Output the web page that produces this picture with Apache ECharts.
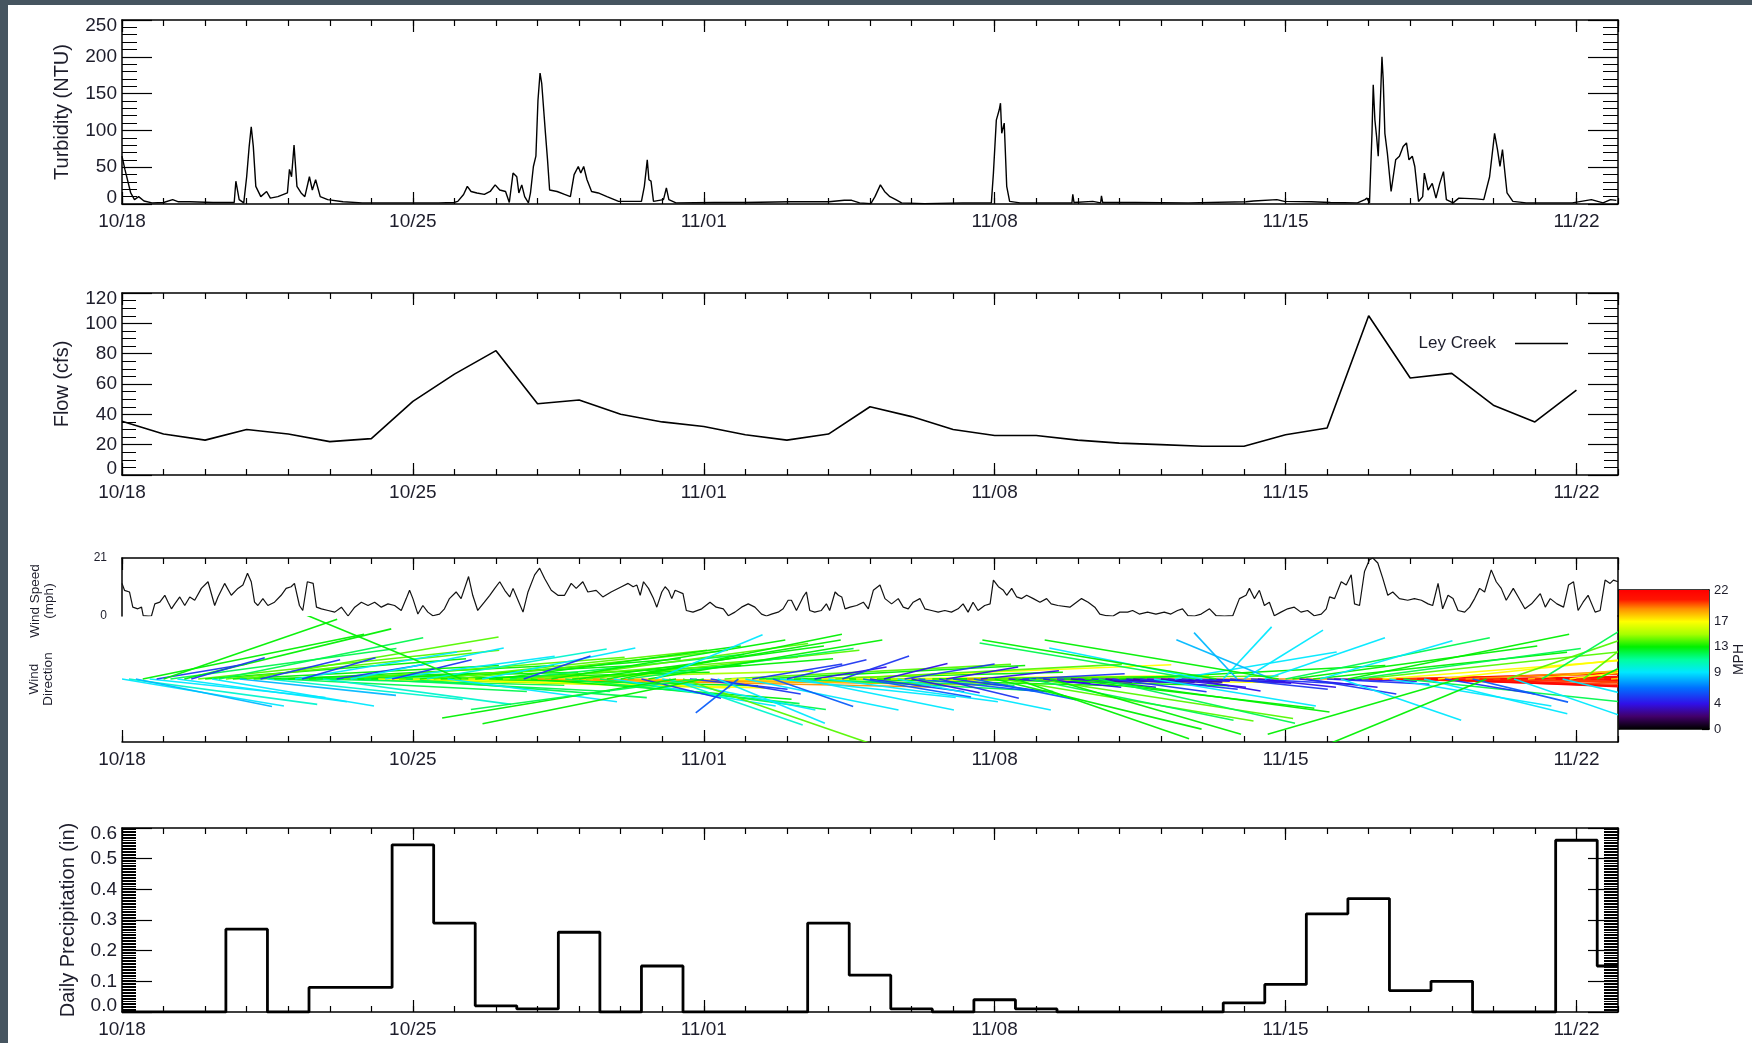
<!DOCTYPE html>
<html><head><meta charset="utf-8">
<script src="https://cdn.jsdelivr.net/npm/echarts@6/dist/echarts.min.js"></script>
<style>html,body{margin:0;padding:0;background:#fff;}#chart{width:1752px;height:1043px;}</style>
</head><body><div id="chart"></div>
<script>
// ---------------- data ----------------
const tickDays = [0, 7, 14, 21, 28, 35];
const tickLabels = ['10/18', '10/25', '11/01', '11/08', '11/15', '11/22'];

// turbidity [day offset from 10/18, NTU]
const turbidity = [[0,65],[0.07,47],[0.21,15],[0.30,6],[0.40,10],[0.53,4],[0.72,1.5],[1.0,2],[1.22,6],[1.36,3],[1.64,3],[2.19,2],[2.70,2],[2.74,31],[2.82,6],[2.93,1.5],[3.00,37],[3.06,78],[3.11,105],[3.16,78],[3.22,24],[3.34,10],[3.48,17],[3.57,8],[3.75,10],[3.98,15],[4.03,47],[4.08,37],[4.14,80],[4.21,24],[4.31,15],[4.40,10],[4.51,37],[4.58,19],[4.66,33],[4.77,10],[4.95,6],[5.32,3],[5.78,1.5],[6.70,1.5],[7.62,1.5],[7.99,2],[8.08,3.5],[8.22,13],[8.31,24],[8.40,17],[8.54,15],[8.72,13],[8.86,17],[8.98,26],[9.09,19],[9.23,17],[9.32,2],[9.41,42],[9.50,37],[9.55,15],[9.62,26],[9.69,10],[9.78,1.5],[9.83,15],[9.90,51],[9.96,65],[10.01,141],[10.06,178],[10.10,164],[10.19,96],[10.24,60],[10.29,19],[10.47,17],[10.65,13],[10.79,10],[10.88,40],[10.98,51],[11.04,42],[11.11,51],[11.19,33],[11.30,17],[11.46,15],[11.67,10],[11.95,3.5],[12.50,3.5],[12.57,24],[12.64,60],[12.68,33],[12.73,31],[12.79,3.5],[13.03,6],[13.10,22],[13.16,6],[13.33,1.5],[14.25,2],[14.99,2],[16.09,3],[17.01,3],[17.38,5],[17.56,5],[17.75,1.5],[18.02,0.5],[18.12,10],[18.25,26],[18.35,17],[18.48,10],[18.62,6],[18.76,1.5],[19.31,0.5],[20.23,1.5],[20.92,1.5],[20.97,42],[21.04,114],[21.11,128],[21.14,137],[21.17,96],[21.23,110],[21.29,24],[21.36,3.5],[21.61,1.5],[22.86,1.5],[22.88,13],[22.91,2],[23.36,3.5],[23.55,1.5],[23.57,11],[23.60,2],[24.38,2],[25.66,1.5],[27.05,3],[27.23,4],[27.79,6],[27.97,3.5],[28.62,3],[29.08,2],[29.73,1.5],[29.91,6],[29.96,8],[30.02,1.5],[30.08,96],[30.11,162],[30.15,114],[30.19,92],[30.23,65],[30.26,105],[30.32,200],[30.35,169],[30.39,96],[30.45,69],[30.54,17],[30.65,60],[30.74,65],[30.83,78],[30.91,83],[30.97,60],[31.05,65],[31.11,51],[31.20,3.5],[31.30,10],[31.34,42],[31.43,19],[31.53,28],[31.62,8],[31.71,28],[31.80,44],[31.87,6],[32.03,1.5],[32.17,8],[32.59,7],[32.77,6],[32.91,37],[33.03,96],[33.10,74],[33.16,51],[33.22,74],[33.33,15],[33.47,3.5],[33.79,1.5],[34.90,1.5],[35.36,6],[35.64,1.5],[35.82,6],[35.96,5]];

// daily flow (cfs), Ley Creek
const flowDays = [0,1,2,3,4,5,6,7,8,9,10,11,12,13,14,15,16,17,18,19,20,21,22,23,24,25,26,27,28,29,30,31,32,33,34,35];
const flowCfs = [35.5,27,23,30,27,22,24,48.5,66.5,82,47,49.5,40,35,32,26.5,23,27,45,38.5,30,26,26,23,21,20,19,19,26.5,31,105,64,67,46,35,56];

// wind speed (mph) [day offset, mph]
const windSpeed = [[0.00,11.8],[0.06,9.3],[0.18,8.7],[0.26,3.2],[0.38,2.6],[0.47,3.2],[0.51,0.1],[0.63,0],[0.71,0.1],[0.79,4.4],[0.91,5.0],[1.03,7.5],[1.11,5.0],[1.19,2.6],[1.27,4.4],[1.39,6.9],[1.51,3.8],[1.63,6.9],[1.75,5.7],[1.91,10.0],[2.07,12.4],[2.23,3.8],[2.31,6.9],[2.47,11.8],[2.63,7.5],[2.79,10.0],[2.91,11.2],[3.02,15.5],[3.11,12.4],[3.19,5.0],[3.27,3.8],[3.39,6.3],[3.51,3.8],[3.67,5.0],[3.83,7.5],[3.95,10.0],[4.07,10.6],[4.15,11.8],[4.27,3.8],[4.35,2.0],[4.46,12.4],[4.60,11.8],[4.68,3.2],[4.80,2.6],[4.96,2.0],[5.12,1.4],[5.28,3.2],[5.44,0],[5.60,3.2],[5.76,5.0],[5.92,3.8],[6.08,5.0],[6.24,3.2],[6.40,4.4],[6.56,3.8],[6.72,2.0],[6.84,6.3],[6.92,9.3],[7.00,6.3],[7.12,0.7],[7.24,3.8],[7.36,1.4],[7.48,0.1],[7.64,0.7],[7.76,2.6],[7.88,6.3],[8.04,8.7],[8.16,6.3],[8.34,14.3],[8.44,7.5],[8.56,2.0],[8.72,5.0],[8.85,7.5],[8.97,10.0],[9.09,12.4],[9.21,9.3],[9.33,6.9],[9.41,10.0],[9.53,5.7],[9.65,1.4],[9.77,8.7],[9.93,14.9],[10.05,17.3],[10.17,13.6],[10.33,9.3],[10.49,7.5],[10.65,7.5],[10.81,11.8],[10.93,10.0],[11.09,12.4],[11.21,8.7],[11.41,9.3],[11.57,6.9],[11.77,8.7],[12.02,10.6],[12.18,11.8],[12.30,10.6],[12.39,11.2],[12.47,7.5],[12.55,12.4],[12.67,10.0],[12.79,6.3],[12.87,3.2],[12.99,8.7],[13.07,10.6],[13.15,9.3],[13.23,6.3],[13.31,9.3],[13.50,8.1],[13.58,2.0],[13.74,1.4],[13.95,2.6],[14.15,5.0],[14.30,3.2],[14.47,2.6],[14.59,0.1],[14.75,1.4],[14.91,3.2],[15.07,4.4],[15.23,3.2],[15.39,0.7],[15.51,0],[15.63,0.7],[15.79,1.4],[15.91,2.6],[16.03,5.7],[16.11,5.7],[16.23,2.0],[16.39,6.9],[16.47,8.7],[16.55,2.0],[16.67,1.4],[16.83,2.0],[16.95,4.4],[17.03,2.0],[17.16,8.7],[17.24,7.5],[17.32,6.9],[17.40,2.6],[17.52,3.2],[17.68,3.8],[17.84,5.0],[17.96,2.6],[18.08,9.3],[18.24,11.2],[18.36,6.3],[18.52,4.4],[18.68,6.3],[18.80,3.2],[18.92,2.6],[19.04,5.0],[19.20,6.3],[19.32,2.6],[19.48,2.0],[19.64,1.4],[19.80,2.0],[19.96,1.4],[20.12,2.6],[20.24,4.4],[20.36,1.4],[20.48,5.0],[20.60,2.0],[20.76,3.8],[20.89,4.4],[20.97,13.0],[21.09,10.6],[21.21,9.3],[21.29,7.5],[21.41,10.0],[21.53,6.9],[21.65,6.3],[21.77,7.5],[21.93,6.3],[22.09,5.0],[22.25,6.3],[22.36,4.4],[22.52,3.8],[22.81,3.2],[22.97,5.0],[23.09,6.3],[23.25,5.0],[23.41,3.2],[23.53,0.7],[23.69,0.1],[23.85,0],[24.01,1.4],[24.20,1.4],[24.32,2.0],[24.48,0.7],[24.68,1.4],[24.88,0.7],[25.08,1.4],[25.24,0.7],[25.40,2.0],[25.52,2.6],[25.65,0.1],[25.81,0],[25.97,0.7],[26.17,2.6],[26.33,0.1],[26.53,0],[26.73,0.1],[26.89,6.3],[27.05,7.5],[27.13,10.0],[27.25,6.3],[27.37,9.3],[27.49,3.8],[27.61,5.0],[27.73,0.1],[27.89,1.4],[28.05,2.6],[28.21,3.2],[28.37,1.4],[28.53,2.0],[28.69,0.1],[28.86,0.7],[28.98,2.6],[29.06,6.9],[29.18,6.3],[29.34,12.4],[29.46,11.2],[29.58,14.9],[29.66,4.4],[29.78,3.8],[29.90,16.1],[30.02,20.4],[30.10,21.0],[30.22,19.2],[30.34,13.6],[30.46,7.5],[30.58,8.7],[30.74,6.3],[30.94,5.7],[31.10,6.3],[31.27,5.7],[31.43,4.4],[31.54,3.8],[31.67,11.8],[31.78,2.6],[31.91,7.5],[32.03,6.3],[32.15,2.0],[32.31,1.4],[32.43,3.2],[32.55,6.3],[32.67,10.0],[32.79,8.7],[32.95,16.7],[33.07,12.4],[33.19,10.0],[33.31,5.7],[33.48,10.0],[33.60,6.9],[33.76,2.6],[33.92,4.4],[34.13,8.1],[34.25,3.2],[34.37,6.3],[34.53,4.4],[34.69,3.2],[34.81,11.2],[34.93,12.4],[35.04,2.0],[35.16,5.0],[35.28,7.5],[35.45,1.4],[35.57,2.0],[35.69,13.0],[35.81,11.8],[35.89,13.0],[36.00,12.4]];

// wind direction sticks, every 4 hours (6 per day): speed (mph) and heading (deg, 0 = up, 90 = right)
const stickSpeed = [
 9,10,8,13,9,5,  13,12,9,13,5,14,  13,9,12,14,13,8,  14,13,5,10,13,12,  13,9,5,13,12,10,  12,5,14,9,13,12,
 13,17,9,5,14,12,  17,13,10,14,13,9,  14,13,17,13,9,13,  13,15,12,14,5,13,  19,14,13,18,12,13,  13,14,19,12,13,9,
 13,12,18,5,13,9,  9,10,13,14,5,12,  13,5,9,14,17,6,  9,5,13,12,6,9,  5,13,9,12,4,17,  9,14,5,13,17,6,
 5,13,4,16,9,5,  4,6,17,13,5,4,  5,13,19,6,4,14,  13,14,4,13,5,12,  14,4,13,5,13,3,  4,13,5,12,3,5,
 13,4,3,5,4,9,  3,4,9,5,4,12,  9,4,13,9,5,8,  9,5,4,9,8,13,  12,13,4,5,13,9,  5,4,9,13,12,14,
 21,20,17,9,21,12,  20,21,9,22,17,5,  21,13,19,6,21,13,  20,22,14,9,21,18,  21,12,20,22,9,17,  20,14,21,13,22,18];
const stickDir = [
 120,115,125,55,110,60,  40,65,115,50,45,70,  75,120,55,70,80,110,  60,85,50,110,90,100,  80,60,45,85,95,115,  88,60,75,55,92,100,
 80,95,65,50,95,105,  95,75,60,70,85,115,  70,325,92,80,55,95,  65,85,70,75,40,105,  94,65,60,92,110,75,  65,70,93,115,60,120,
 55,65,93,130,60,35,  125,140,240,140,110,245,  235,120,145,80,91,200,  125,60,80,95,140,110,  50,85,125,100,60,82,  115,80,40,95,88,120,
 115,90,50,92,125,60,  125,110,92,88,130,60,  115,95,90,125,70,88,  130,120,100,140,80,125,  118,110,135,95,112,100,  110,115,95,128,100,115,
 80,105,100,110,95,120,  100,110,60,95,120,300,  305,100,300,15,110,345,  25,100,110,40,325,300,  55,65,110,120,70,45,  100,95,140,55,65,70,
 92,86,75,120,96,110,  95,84,130,98,70,120,  88,225,80,130,100,215,  96,86,40,140,90,72,  85,25,98,92,130,65,  92,20,100,30,86,75];

// daily precipitation (in)
const precipDays = [0,1,2,3,4,5,6,7,8,9,10,11,12,13,14,15,16,17,18,19,20,21,22,23,24,25,26,27,28,29,30,31,32,33,34,35,36];
const precipIn = [0,0,0,0.27,0,0.08,0.08,0.545,0.29,0.02,0.01,0.26,0,0.15,0,0,0,0.29,0.12,0.01,0,0.04,0.01,0,0,0,0,0.03,0.09,0.32,0.37,0.07,0.10,0,0,0.56,0.15];

// colour bar
const colorbarTicks = [0, 4, 9, 13, 17, 22];
const cmapStops = [[0,'#000000'],[2,'#42006a'],[4,'#3010e8'],[6.5,'#0070ff'],[9,'#00e8ff'],[11,'#00ff9c'],[13,'#00f000'],[15,'#a8ff00'],[17,'#ffff00'],[19,'#ff9000'],[20.5,'#ff1500'],[22,'#ff0000']];

// ---------------- helpers ----------------
function hex2rgb(h){return [parseInt(h.substr(1,2),16),parseInt(h.substr(3,2),16),parseInt(h.substr(5,2),16)];}
function cmap(v){
  v = Math.max(0, Math.min(22, v));
  for (let i = 1; i < cmapStops.length; i++) {
    if (v <= cmapStops[i][0]) {
      const a = cmapStops[i-1], b = cmapStops[i];
      const f = (v - a[0]) / (b[0] - a[0]);
      const ca = hex2rgb(a[1]), cb = hex2rgb(b[1]);
      return 'rgb(' + ca.map((c,k)=>Math.round(c + (cb[k]-c)*f)).join(',') + ')';
    }
  }
  return cmapStops[cmapStops.length-1][1];
}
function dayLabel(v){ const i = tickDays.indexOf(v); return i >= 0 ? tickLabels[i] : ''; }

const AX = '#000';
const TXT = '#1d1d2b';
const REG = "'Liberation Sans', Arial, sans-serif";

const L = 122, W = 1496;
const grids = [
  {left: L, top: 20, width: W, height: 184},   // 0 turbidity
  {left: L, top: 293, width: W, height: 182},  // 1 flow
  {left: L, top: 558, width: W, height: 58},   // 2 wind speed
  {left: L, top: 616, width: W, height: 126},  // 3 wind direction
  {left: L, top: 828, width: W, height: 184},  // 4 precipitation
  {left: 1619, top: 590, width: 90, height: 139} // 5 colour bar
];

const xAxes = [], yAxes = [];
function addX(gi, pos, major, labelFont){
  const base = {type:'value', gridIndex: gi, min: 0, max: 36, position: pos, splitLine:{show:false}};
  const idx = xAxes.length;
  xAxes.push(Object.assign({}, base, {
    interval: 7,
    axisLine: {show: major, onZero: false, lineStyle: {color: AX, width: 1.5}},
    axisTick: {show: true, inside: true, length: 12, lineStyle: {color: AX, width: 1.2}},
    axisLabel: labelFont ? Object.assign({show: true, formatter: dayLabel, margin: 8, color: TXT, showMaxLabel: false}, labelFont) : {show: false}
  }));
  xAxes.push(Object.assign({}, base, {
    interval: 1,
    axisLine: {show: false, onZero: false},
    axisTick: {show: true, inside: true, length: 6, lineStyle: {color: AX, width: 1.2}},
    axisLabel: {show: false}
  }));
  return idx;
}
function edgeRich(min, max, fmt, font){
  return {
    formatter: function(v){
      const s = fmt(v);
      if (Math.abs(v - min) < 1e-9) return '{lo|' + s + '}';
      if (Math.abs(v - max) < 1e-9) return '{hi|' + s + '}';
      return s;
    },
    rich: {
      lo: Object.assign({padding: [0,0,12,0], color: TXT}, font),
      hi: Object.assign({padding: [12,0,0,0], color: TXT}, font)
    }
  };
}
function addYPair(gi, o){
  const idx = yAxes.length;
  const common = {type:'value', gridIndex: gi, min: o.min, max: o.max, interval: o.interval, splitLine:{show:false}, minorSplitLine:{show:false}};
  const tick = {show: true, inside: true, length: 30, lineStyle: {color: AX, width: 1.2}};
  const minor = {show: true, splitNumber: o.minor, length: o.minorLen || 15, lineStyle: {color: AX, width: 1}};
  yAxes.push(Object.assign({}, common, {
    position: 'left',
    axisLine: {show: true, onZero: false, lineStyle: {color: AX, width: 1.5}},
    axisTick: tick, minorTick: minor,
    axisLabel: Object.assign({show: true, margin: 5, color: TXT}, o.font, edgeRich(o.min, o.max, o.fmt, o.font)),
    name: o.name, nameLocation: 'middle', nameGap: o.nameGap,
    nameTextStyle: {fontFamily: REG, fontSize: 20, color: TXT}
  }));
  yAxes.push(Object.assign({}, common, {
    position: 'right',
    axisLine: {show: true, onZero: false, lineStyle: {color: AX, width: 1.5}},
    axisTick: tick, minorTick: minor, axisLabel: {show: false}
  }));
  return idx;
}

const fontLbl = {fontFamily: REG, fontSize: 19};

// Turbidity panel
const xT = addX(0, 'bottom', true, fontLbl); addX(0, 'top', true, null);
const yT = addYPair(0, {min:0, max:250, interval:50, minor:5, font: fontLbl, fmt: v => String(v), name: 'Turbidity (NTU)', nameGap: 50});
// Flow panel
const xF = addX(1, 'bottom', true, fontLbl); addX(1, 'top', true, null);
const yF = addYPair(1, {min:0, max:120, interval:20, minor:4, minorLen: 14, font: fontLbl, fmt: v => String(v), name: 'Flow (cfs)', nameGap: 50});
// Wind speed panel (top part)
const xWS = addX(2, 'top', true, null);
const yWS = yAxes.length;
yAxes.push({type:'value', gridIndex: 2, position:'left', min: 0, max: 21, interval: 21, splitLine:{show:false},
  axisLine:{show:true, onZero:false, lineStyle:{color:AX, width:1.5}}, axisTick:{show:false},
  axisLabel:{show:true, margin: 15, color: TXT, fontFamily: REG, fontSize: 12},
  name: 'Wind Speed\n(mph)', nameLocation:'middle', nameGap: 66,
  nameTextStyle:{fontFamily: REG, fontSize: 13.5, color: TXT, lineHeight: 14, padding:[0,28,0,0]}});
yAxes.push({type:'value', gridIndex: 2, position:'right', min: 0, max: 21, splitLine:{show:false},
  axisLine:{show:true, onZero:false, lineStyle:{color:AX, width:1.5}}, axisTick:{show:false}, axisLabel:{show:false}});
// Wind direction panel (bottom part)
const xWD = addX(3, 'bottom', true, fontLbl);
const yWD = yAxes.length;
yAxes.push({type:'value', gridIndex: 3, position:'left', min: -1, max: 1, splitLine:{show:false},
  axisLine:{show:false, onZero:false}, axisTick:{show:false}, axisLabel:{show:false},
  name: 'Wind\nDirection', nameLocation:'middle', nameGap: 67,
  nameTextStyle:{fontFamily: REG, fontSize: 13.5, color: TXT, lineHeight: 14}});
yAxes.push({type:'value', gridIndex: 3, position:'right', min: -1, max: 1, splitLine:{show:false},
  axisLine:{show:true, onZero:false, lineStyle:{color:AX, width:1.5}}, axisTick:{show:false}, axisLabel:{show:false}});
// Precipitation panel
const xP = addX(4, 'bottom', true, fontLbl); addX(4, 'top', true, null);
const yP = addYPair(4, {min:0, max:0.6, interval:0.1, minor:20, minorLen: 14, font: fontLbl, fmt: v => v.toFixed(1), name: 'Daily Precipitation (in)', nameGap: 44});
// Colour bar
const xC = xAxes.length;
xAxes.push({type:'value', gridIndex:5, min:0, max:1, position:'bottom', splitLine:{show:false},
  axisLine:{show:true, onZero:false, lineStyle:{color:AX, width:1.5}}, axisTick:{show:false}, axisLabel:{show:false}});
xAxes.push({type:'value', gridIndex:5, min:0, max:1, position:'top', splitLine:{show:false},
  axisLine:{show:true, onZero:false, lineStyle:{color:AX, width:1.5}}, axisTick:{show:false}, axisLabel:{show:false}});
const yC = yAxes.length;
yAxes.push({type:'value', gridIndex:5, min:0, max:22, position:'right', splitLine:{show:false},
  axisLine:{show:true, onZero:false, lineStyle:{color:AX, width:1.5}},
  axisTick:{show:true, inside:true, length:7, customValues: colorbarTicks, lineStyle:{color:AX, width:1.2}},
  axisLabel:{show:true, margin:5, customValues: colorbarTicks, color: TXT, fontFamily: REG, fontSize: 13},
  name:'MPH', nameLocation:'middle', nameRotate: 90, nameGap: 22,
  nameTextStyle:{fontFamily: REG, fontSize: 14, color: TXT}});
yAxes.push({type:'value', gridIndex:5, min:0, max:22, position:'left', splitLine:{show:false},
  axisLine:{show:true, onZero:false, lineStyle:{color:AX, width:1.5}}, axisTick:{show:false}, axisLabel:{show:false}});

// stick data: [day, 0, speed, heading]
const KX = 0.5;          // days per mph (horizontal)
const KY = 6 / 63;       // y-units per mph (vertical)
const sticks = stickSpeed.map((s, i) => [i / 6, 0, s, stickDir[i]]);

const option = {
  animation: false,
  backgroundColor: '#ffffff',
  graphic: [
    {type:'rect', left:0, top:0, shape:{width:1752, height:5}, style:{fill:'#465560'}, silent:true},
    {type:'rect', left:0, top:0, shape:{width:8, height:1043}, style:{fill:'#465560'}, silent:true}
  ],
  grid: grids,
  xAxis: xAxes,
  yAxis: yAxes,
  legend: {
    data: ['Ley Creek'], right: 179, top: 330, align: 'right', icon: 'rect',
    itemWidth: 53, itemHeight: 1.6,
    textStyle: {fontFamily: REG, fontSize: 17, color: TXT, padding: [0, 14, 0, 0]}
  },
  series: [
    {type:'line', name:'Turbidity', xAxisIndex: xT, yAxisIndex: yT, data: turbidity, symbol:'none',
      lineStyle:{color:'#000', width:1.4}, itemStyle:{color:'#000'}},
    {type:'line', name:'Ley Creek', xAxisIndex: xF, yAxisIndex: yF, data: flowDays.map((d,i)=>[d, flowCfs[i]]), symbol:'none',
      lineStyle:{color:'#000', width:1.6}, itemStyle:{color:'#000'}},
    {type:'line', name:'Wind Speed', xAxisIndex: xWS, yAxisIndex: yWS, data: windSpeed, symbol:'none',
      lineStyle:{color:'#111', width:1.2}, itemStyle:{color:'#000'}},
    {type:'custom', name:'Wind Direction', xAxisIndex: xWD, yAxisIndex: yWD, data: sticks, clip: true,
      encode: {x: 0, y: 1},
      renderItem: function(params, api){
        const t = api.value(0), s = api.value(2), d = api.value(3) * Math.PI / 180;
        const u = s * Math.sin(d), v = s * Math.cos(d);
        const p0 = api.coord([t, 0]);
        const p1 = api.coord([t + u * KX, v * KY]);
        return {type:'line', shape:{x1:p0[0], y1:p0[1], x2:p1[0], y2:p1[1]},
          style:{stroke: cmap(s), lineWidth: 1.6, opacity: 0.95}};
      }},
    {type:'custom', name:'Colour bar', xAxisIndex: xC, yAxisIndex: yC, data: [[0, 0]], clip: false,
      renderItem: function(params, api){
        const a = api.coord([0, 22]), b = api.coord([1, 0]);
        const stops = cmapStops.slice().reverse().map(st => ({offset: 1 - st[0] / 22, color: st[1]}));
        return {type:'rect', shape:{x:a[0], y:a[1], width:b[0]-a[0], height:b[1]-a[1]},
          style:{fill: new echarts.graphic.LinearGradient(0, 0, 0, 1, stops)}};
      }},
    {type:'line', name:'Precipitation', xAxisIndex: xP, yAxisIndex: yP, step:'middle',
      data: precipDays.map((d,i)=>[d, precipIn[i]]), symbol:'none',
      lineStyle:{color:'#000', width:2.8}, itemStyle:{color:'#000'}}
  ]
};

const chart = echarts.init(document.getElementById('chart'), null, {renderer: 'canvas'});
chart.setOption(option);
</script></body></html>
